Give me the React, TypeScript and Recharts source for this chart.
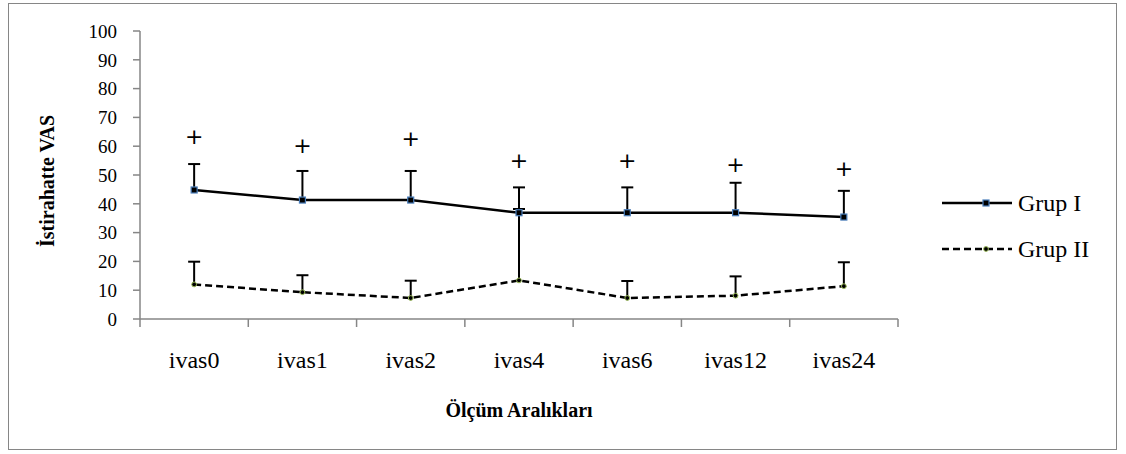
import { ComposedChart, Line, Scatter, XAxis, YAxis, ErrorBar, Legend } from "recharts";

const categories = ["ivas0", "ivas1", "ivas2", "ivas4", "ivas6", "ivas12", "ivas24"];
const grup1 = [44.8, 41.3, 41.3, 36.9, 36.9, 36.9, 35.4];
const grup1Sd = [9.0, 10.1, 10.1, 8.8, 8.8, 10.4, 9.1];
const grup2 = [12.0, 9.3, 7.3, 13.4, 7.3, 8.1, 11.4];
const grup2Sd = [7.9, 5.9, 6.0, 24.8, 5.9, 6.7, 8.3];
const plusMarks = [63.5, 60.4, 62.6, 54.9, 54.9, 53.8, 52.4];
const yTicks = [0, 10, 20, 30, 40, 50, 60, 70, 80, 90, 100];

const data = categories.map((c, i) => ({
  name: c,
  x: i + 0.5,
  g1: grup1[i],
  g1Err: [0, grup1Sd[i]],
  g2: grup2[i],
  g2Err: [0, grup2Sd[i]],
  plus: plusMarks[i],
}));

const serif = "Liberation Serif";
const axisGray = "#868686";

function SquareDot(props: any) {
  const { cx, cy, index } = props;
  return <rect key={`sq-${index}`} x={cx - 3} y={cy - 3} width={6} height={6} fill="#000" stroke="#4a7ebb" strokeWidth={1.2} />;
}

function RoundDot(props: any) {
  const { cx, cy, index } = props;
  return <circle key={`rd-${index}`} cx={cx} cy={cy} r={2.4} fill="#000" stroke="#9bbb59" strokeWidth={1} />;
}

function PlusShape(props: any) {
  const { cx, cy } = props;
  return (
    <text x={cx} y={cy} dy={7.5} textAnchor="middle" style={{ fontFamily: "DejaVu Sans" }} fontSize={22} fill="#000">
      +
    </text>
  );
}

function CategoryTick(props: any) {
  const { x, y, payload } = props;
  const label = categories[Math.floor(payload.value)] ?? "";
  return (
    <text x={x} y={y} dy={39} textAnchor="middle" style={{ fontFamily: serif }} fontSize={24} fill="#000">
      {label}
    </text>
  );
}

function YLabel(props: any) {
  const { viewBox } = props;
  const cx = viewBox.x + 47;
  const cy = viewBox.y + viewBox.height / 2 + 6;
  return (
    <text x={cx} y={cy} transform={`rotate(-90 ${cx} ${cy})`} textAnchor="middle" dominantBaseline="central" style={{ fontFamily: serif }} fontWeight="bold" fontSize={20} fill="#000">
      İstirahatte VAS
    </text>
  );
}

function XLabel(props: any) {
  const { viewBox } = props;
  const cx = viewBox.x + viewBox.width / 2;
  return (
    <text x={cx} y={viewBox.y + 88} textAnchor="middle" style={{ fontFamily: serif }} fontWeight="bold" fontSize={20} fill="#000">
      Ölçüm Aralıkları
    </text>
  );
}

function LegendBox(props: any) {
  const items = (props.payload ?? []).filter((p: any) => p.value === "Grup I" || p.value === "Grup II");
  return (
    <div>
      {items.map((p: any) => {
        const dashed = p.value === "Grup II";
        return (
          <div key={p.value} style={{ display: "flex", alignItems: "center", height: 46 }}>
            <svg width={70} height={20} style={{ marginRight: 6 }}>
              <line x1={0} y1={10} x2={70} y2={10} stroke="#000" strokeWidth={2.5} strokeDasharray={dashed ? "7 4" : undefined} />
              {dashed ? (
                <circle cx={44} cy={10} r={2.4} fill="#000" stroke="#9bbb59" strokeWidth={1} />
              ) : (
                <rect x={41} y={7} width={6} height={6} fill="#000" stroke="#4a7ebb" strokeWidth={1.2} />
              )}
            </svg>
            <span style={{ fontFamily: serif, fontSize: 24, color: "#000", lineHeight: "24px" }}>{p.value}</span>
          </div>
        );
      })}
    </div>
  );
}

export default function App() {
  return (
    <div style={{ position: "absolute", left: 0, top: 0, width: 1126, height: 454, background: "#fff", fontFamily: serif }}>
      <style>{`.recharts-errorBar line:nth-of-type(3){display:none} .recharts-wrapper text{font-family:"Liberation Serif", serif}`}</style>
      <div style={{ position: "absolute", left: 8, top: 3, width: 1109, height: 447, boxSizing: "border-box", border: `1px solid ${axisGray}` }} />
      <div style={{ position: "absolute", left: 0, top: 0 }}>
        <ComposedChart width={1126} height={454} data={data} margin={{ top: 31, right: 228, bottom: 0, left: 0 }}>
          <XAxis
            xAxisId={0}
            dataKey="x"
            type="number"
            domain={[0, 7]}
            ticks={[0, 1, 2, 3, 4, 5, 6, 7]}
            tickFormatter={() => ""}
            stroke={axisGray}
            strokeWidth={1.5}
            tickSize={8}
            height={10}
          />
          <XAxis
            xAxisId={1}
            dataKey="x"
            type="number"
            domain={[0, 7]}
            ticks={[0.5, 1.5, 2.5, 3.5, 4.5, 5.5, 6.5]}
            axisLine={false}
            tickLine={false}
            tickSize={0}
            tickMargin={0}
            tick={<CategoryTick />}
            height={125}
            label={{ content: <XLabel /> }}
          />
          <YAxis
            type="number"
            domain={[0, 100]}
            ticks={yTicks}
            width={140}
            stroke={axisGray}
            strokeWidth={1.5}
            tickSize={7}
            tickMargin={16}
            tick={{ fontSize: 19, fill: "#000" }}
            label={{ content: <YLabel /> }}
          />
          <Line xAxisId={0} name="Grup I" type="linear" dataKey="g1" stroke="#000" strokeWidth={2.5} dot={<SquareDot />} activeDot={false} isAnimationActive={false}>
            <ErrorBar dataKey="g1Err" direction="y" width={6} stroke="#000" strokeWidth={2} />
          </Line>
          <Line xAxisId={0} name="Grup II" type="linear" dataKey="g2" stroke="#000" strokeWidth={2.5} strokeDasharray="7 4" dot={<RoundDot />} activeDot={false} isAnimationActive={false}>
            <ErrorBar dataKey="g2Err" direction="y" width={6} stroke="#000" strokeWidth={2} />
          </Line>
          <Scatter xAxisId={0} dataKey="plus" legendType="none" shape={<PlusShape />} isAnimationActive={false} />
          <Legend layout="vertical" align="center" verticalAlign="middle" content={<LegendBox />} wrapperStyle={{ position: "absolute", left: 942, top: 180, width: 180 }} />
        </ComposedChart>
      </div>
    </div>
  );
}
